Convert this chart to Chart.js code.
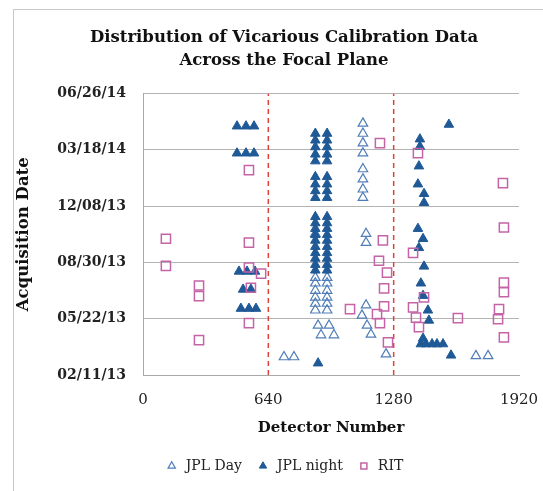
<!DOCTYPE html>
<html>
<head>
<meta charset="utf-8">
<script src="https://cdn.jsdelivr.net/npm/chart.js@4"></script>
<style>
  html, body { margin: 0; padding: 0; background: #fff; overflow: hidden; }
  #frame { position: absolute; left: 13px; top: 9px; width: 540px; height: 490px; border: 1px solid #c8c8c8; }
  #wrap { position: absolute; left: 0; top: 0; width: 540px; height: 482px; }
</style>
</head>
<body>
<div id="frame"><div id="wrap"><canvas id="myChart"></canvas></div></div>
<script>
// day offsets are counted from 02/11/13
const START = Date.UTC(2013, 1, 11);
const dayTicks = [0, 100, 200, 300, 400, 500];
const detectorTicks = [0, 640, 1280, 1920];
const dividers = [640, 1280];

// [detector, days since 02/11/13]
const jplDay = [
  [880, 251],
  [880, 173], [940, 173], [880, 163], [940, 163], [880, 150], [940, 150],
  [880, 138], [940, 138], [880, 127], [940, 127], [880, 115], [940, 115],
  [894, 88], [950, 88], [909, 71], [975, 71],
  [720, 32], [771, 32],
  [1123, 447], [1123, 429], [1123, 412], [1123, 394],
  [1123, 366], [1123, 348], [1123, 330], [1123, 315],
  [1139, 251], [1139, 235],
  [1139, 124], [1118, 106], [1144, 88], [1164, 72], [1241, 37],
  [1700, 34], [1762, 34]
];

const jplNight = [
  [480, 442], [526, 442], [567, 442],
  [480, 394], [526, 394], [567, 394],
  [490, 184], [531, 184], [572, 184],
  [511, 152], [551, 152],
  [500, 118], [541, 118], [577, 118],
  [880, 429], [940, 429], [880, 417], [940, 417], [880, 405], [940, 405],
  [880, 392], [940, 392], [880, 380], [940, 380],
  [880, 352], [940, 352], [880, 339], [940, 339], [880, 327], [940, 327],
  [880, 315], [940, 315],
  [880, 281], [940, 281], [880, 270], [940, 270], [880, 260], [940, 260],
  [880, 249], [940, 249], [880, 239], [940, 239], [880, 228], [940, 228],
  [880, 217], [940, 217], [880, 207], [940, 207], [880, 196], [940, 196],
  [880, 186], [940, 186],
  [894, 21],
  [1562, 445], [1414, 419], [1414, 406], [1409, 371], [1404, 339],
  [1435, 322], [1435, 306], [1404, 260], [1430, 242], [1409, 226],
  [1435, 193], [1419, 163], [1430, 141], [1455, 115], [1460, 97],
  [1430, 65], [1419, 55], [1445, 55], [1476, 55], [1501, 55], [1532, 55],
  [1573, 35]
];

const rit = [
  [117, 242], [117, 194], [286, 159], [286, 140], [286, 62],
  [541, 364], [541, 235], [541, 191], [603, 180], [551, 155], [541, 92],
  [1210, 412], [1225, 239], [1205, 203], [1246, 182], [1231, 154],
  [1231, 122], [1057, 117], [1195, 108], [1210, 92], [1251, 58],
  [1404, 394], [1379, 217], [1435, 138], [1379, 120], [1394, 102],
  [1409, 85], [1608, 101],
  [1838, 341], [1843, 262], [1843, 164], [1843, 147], [1818, 117],
  [1813, 99], [1843, 67]
];

function toPoints(arr) {
  return arr.map((p) => ({ x: p[0], y: p[1] }));
}

function fmtDate(v) {
  const d = new Date(START + v * 86400000);
  const mm = String(d.getUTCMonth() + 1).padStart(2, '0');
  const dd = String(d.getUTCDate()).padStart(2, '0');
  const yy = String(d.getUTCFullYear() % 100).padStart(2, '0');
  return mm + '/' + dd + '/' + yy;
}

const serif = 'DejaVu Serif';

const dividerSets = dividers.map((x) => ({
  type: 'line',
  label: 'divider',
  data: [{ x: x, y: dayTicks[0] }, { x: x, y: dayTicks[dayTicks.length - 1] }],
  borderColor: '#e0403a',
  borderWidth: 1.5,
  borderDash: [5, 4],
  pointRadius: 0,
  showLine: true,
  order: 3
}));

new Chart(document.getElementById('myChart'), {
  type: 'scatter',
  data: {
    datasets: [
      {
        label: 'JPL Day',
        data: toPoints(jplDay),
        pointStyle: 'triangle',
        pointRadius: 5.5,
        backgroundColor: 'rgba(255,255,255,0)',
        borderColor: '#4f7db8',
        borderWidth: 1.2,
        order: 2
      },
      {
        label: 'JPL night',
        data: toPoints(jplNight),
        pointStyle: 'triangle',
        pointRadius: 5.5,
        backgroundColor: '#1f5996',
        borderColor: '#1f5996',
        borderWidth: 1,
        order: 1
      },
      {
        label: 'RIT',
        data: toPoints(rit),
        pointStyle: 'rect',
        pointRadius: 6.5,
        backgroundColor: 'rgba(255,255,255,0)',
        borderColor: '#c464a6',
        borderWidth: 1.5,
        order: 0
      },
      ...dividerSets
    ]
  },
  options: {
    responsive: true,
    maintainAspectRatio: false,
    animation: false,
    layout: { padding: { left: 0, right: 0, top: 0, bottom: 9 } },
    plugins: {
      title: {
        display: true,
        text: ['Distribution of Vicarious Calibration Data', 'Across the Focal Plane'],
        color: '#111',
        font: { family: serif, size: 16.5, weight: 'bold', lineHeight: 1.35 },
        padding: { top: 17, bottom: 22 }
      },
      legend: {
        position: 'bottom',
        labels: {
          color: '#222',
          font: { family: serif, size: 14 },
          usePointStyle: true,
          boxHeight: 6,
          padding: 14,
          filter: (item) => item.text !== 'divider',
          sort: (a, b) => a.datasetIndex - b.datasetIndex
        }
      },
      tooltip: { enabled: false }
    },
    scales: {
      x: {
        type: 'linear',
        min: detectorTicks[0],
        max: detectorTicks[detectorTicks.length - 1],
        afterBuildTicks: (s) => { s.ticks = detectorTicks.map((v) => ({ value: v })); },
        afterFit: (s) => { s.height = 70; },
        grid: { display: false },
        border: { display: true, color: '#a8a8a8', width: 1 },
        ticks: { color: '#222', font: { family: serif, size: 15 }, padding: 8, callback: (v) => String(v) },
        title: {
          display: true,
          text: 'Detector Number',
          color: '#111',
          font: { family: serif, size: 15, weight: 'bold' },
          padding: { top: 0, bottom: 8 }
        }
      },
      y: {
        type: 'linear',
        min: dayTicks[0],
        max: dayTicks[dayTicks.length - 1],
        afterBuildTicks: (s) => { s.ticks = dayTicks.map((v) => ({ value: v })); },
        afterFit: (s) => { s.width = 129; },
        grid: { color: '#b4b4b4', lineWidth: 1, drawTicks: false },
        border: { display: true, color: '#a8a8a8', width: 1 },
        ticks: {
          color: '#222',
          font: { family: serif, size: 14, weight: 'bold' },
          padding: 17,
          callback: (v) => fmtDate(v)
        },
        title: {
          display: true,
          text: 'Acquisition Date',
          color: '#111',
          font: { family: serif, size: 16.5, weight: 'bold' },
          padding: 0
        }
      },
      // empty right-hand box so the title and legend centre on the frame
      yPad: {
        type: 'linear',
        position: 'right',
        display: true,
        afterFit: (s) => { s.width = 35; },
        grid: { display: false, drawTicks: false },
        border: { display: false },
        ticks: { display: false }
      }
    }
  }
});
</script>
</body>
</html>
